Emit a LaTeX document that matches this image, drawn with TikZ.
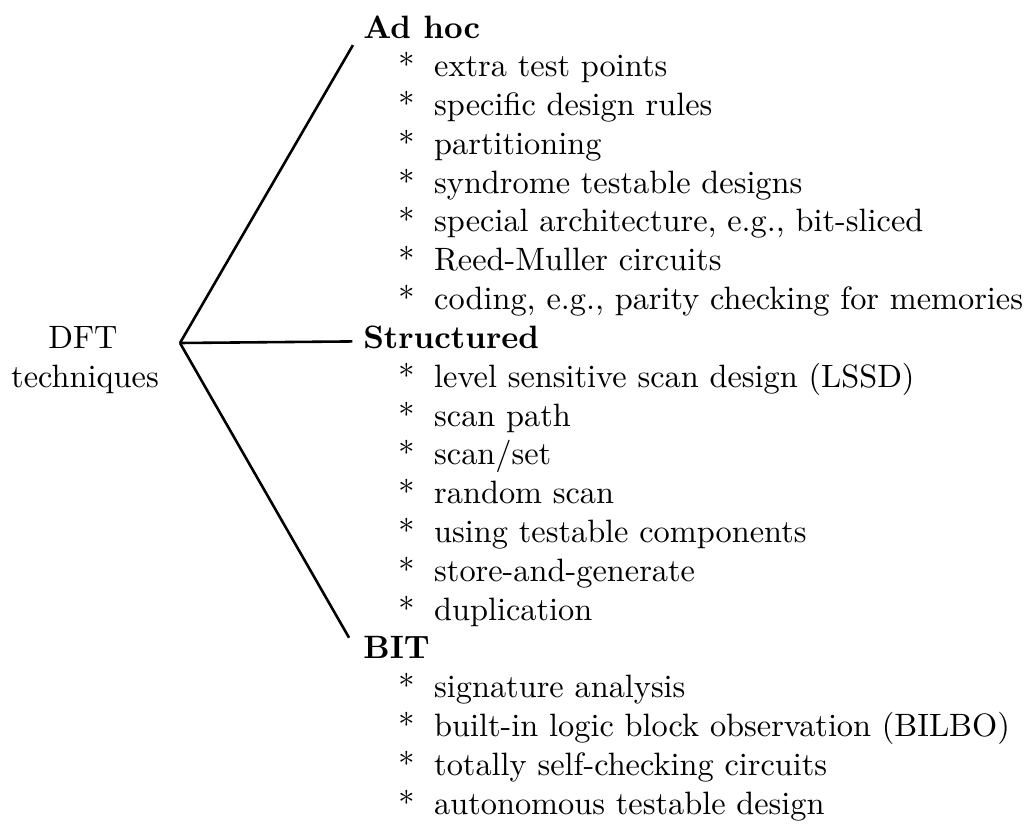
\documentclass[tikz,border=0pt]{standalone}
\usepackage{tikz}
\tikzset{
  head/.style={anchor=base west,inner sep=0pt,font=\bfseries},
  item/.style={anchor=base west,inner sep=0pt,
    execute at begin node={\makebox[11.1pt][l]{*}}},
  label/.style={anchor=base,inner sep=0pt},
}
\begin{document}
\begin{tikzpicture}[x=0.3092pt,y=-0.3092pt,line width=0.8pt]
%\draw[help lines,step=50] (0,0) grid (1032,825);
\useasboundingbox (0,0) rectangle (1032,825);
\node[label] (dft) at (83,{38+38.8*8}) {DFT};
\node[label] (dftb) at (85,{38+38.8*9}) {techniques};
\node[head] (adhoc) at (362,38) {Ad hoc};
\node[head] (struct) at (362,{38+38.8*8}) {Structured};
\node[head] (bit) at (362,{38+38.8*16}) {BIT};
\foreach \t [count=\i] in {extra test points,specific design rules,partitioning,
  syndrome testable designs,{special architecture, e.g., bit-sliced},
  Reed-Muller circuits,{coding, e.g., parity checking for memories}}
  \node[item] (adhoc\i) at (397,{38+38.8*\i}) {\t};
\foreach \t [count=\i] in {level sensitive scan design (LSSD),scan path,scan/set,
  random scan,using testable components,store-and-generate,duplication}
  \node[item] (struct\i) at (397,{38+38.8*(\i+8)}) {\t};
\foreach \t [count=\i] in {signature analysis,built-in logic block observation (BILBO),
  totally self-checking circuits,autonomous testable design}
  \node[item] (bit\i) at (397,{38+38.8*(\i+16)}) {\t};
% the fork
\coordinate (fork) at (180,343);
\draw (fork)--([shift={(-2.8pt,-2.2pt)}]adhoc.base west);
\draw (fork)--([xshift=-3pt]struct.mid west);
\draw (fork)--([shift={(-4pt,6.5pt)}]bit.base west);
\end{tikzpicture}
\end{document}
